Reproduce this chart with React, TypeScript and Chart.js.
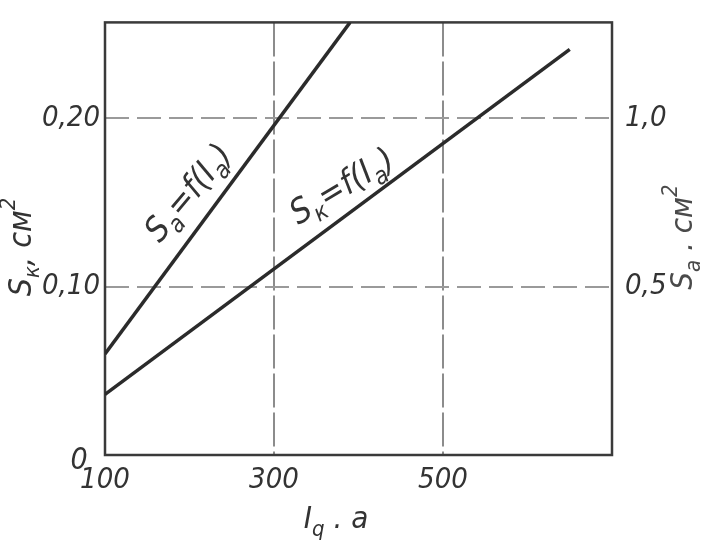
import React, { useEffect, useRef } from "react";
import { Chart, registerables } from "chart.js";

Chart.register(...registerables);

// Data
const currentSk = [100, 650]; // I_a, a
const sK = [0.036, 0.241]; // S_к, см² (left axis)
const currentSa = [100, 390];
const sA = [0.3, 1.285]; // S_a, см² (right axis)

const xTicks = [100, 300, 500, 700];
const xTickLabels = ["100", "300", "500", ""];
const leftTicks = [0, 0.1, 0.2];
const leftTickLabels = ["0", "0,10", "0,20"];
const rightTicks = [0.5, 1.0];
const rightTickLabels = ["0,5", "1,0"];

const FAMILY = "'Liberation Sans Narrow', 'DejaVu Sans Condensed', 'Liberation Sans', sans-serif";
const INK = "#333333";

type Part = { t: string; sub?: boolean; sup?: boolean };

function drawRich(ctx: CanvasRenderingContext2D, parts: Part[], cx: number, cy: number, angle: number, size: number, color: string) {
  const main = `italic ${size}px ${FAMILY}`;
  const small = `italic ${Math.round(size * 0.7)}px ${FAMILY}`;
  let total = 0;
  const widths = parts.map((p) => {
    ctx.font = p.sub || p.sup ? small : main;
    const w = ctx.measureText(p.t).width;
    total += w;
    return w;
  });
  ctx.save();
  ctx.translate(cx, cy);
  ctx.rotate(angle);
  ctx.fillStyle = color;
  ctx.textAlign = "left";
  ctx.textBaseline = "middle";
  let x = -total / 2;
  parts.forEach((p, i) => {
    ctx.font = p.sub || p.sup ? small : main;
    const off = p.sub ? size * 0.32 : p.sup ? -size * 0.42 : 0;
    ctx.fillText(p.t, x, off);
    x += widths[i];
  });
  ctx.restore();
}

const decoPlugin = {
  id: "deco",
  beforeDatasetsDraw(chart: any) {
    const { ctx, chartArea } = chart;
    ctx.save();
    ctx.strokeStyle = "#3a3a3a";
    ctx.lineWidth = 2.5;
    ctx.strokeRect(chartArea.left, chartArea.top, chartArea.right - chartArea.left, chartArea.bottom - chartArea.top);
    ctx.restore();
  },
  afterDatasetsDraw(chart: any) {
    const ctx = chart.ctx as CanvasRenderingContext2D;
    // origin label "0", drawn below-left of the corner as in the reference
    const y0 = chart.scales.y.getPixelForValue(leftTicks[0]);
    ctx.save();
    ctx.font = `italic 30px ${FAMILY}`;
    ctx.fillStyle = INK;
    ctx.textAlign = "center";
    ctx.textBaseline = "middle";
    ctx.fillText(leftTickLabels[0], 79, y0 + 6);
    ctx.restore();

    drawRich(ctx, [{ t: "S" }, { t: "к", sub: true }, { t: ", см" }, { t: "2", sup: true }], 23, 247, -Math.PI / 2, 32, INK);
    drawRich(ctx, [{ t: "S" }, { t: "a", sub: true }, { t: " . см" }, { t: "2", sup: true }], 684, 237, -Math.PI / 2, 31, "#4a4a4a");
    drawRich(ctx, [{ t: "I" }, { t: "q", sub: true }, { t: " . a" }], 336, 520, 0, 31, INK);
    drawRich(ctx, [{ t: "S" }, { t: "a", sub: true }, { t: "=f(I" }, { t: "a", sub: true }, { t: ")" }], 190, 194, (-50 * Math.PI) / 180, 34, INK);
    drawRich(ctx, [{ t: "S" }, { t: "к", sub: true }, { t: "=f(I" }, { t: "a", sub: true }, { t: ")" }], 343, 188, (-31 * Math.PI) / 180, 34, INK);
  },
};

export default function App() {
  const ref = useRef<HTMLCanvasElement | null>(null);
  useEffect(() => {
    if (!ref.current) return;
    const chart = new Chart(ref.current, {
      type: "line",
      data: {
        datasets: [
          {
            label: "S_к",
            data: currentSk.map((x, i) => ({ x, y: sK[i] })),
            borderColor: "#2b2b2b",
            borderWidth: 3.5,
            pointRadius: 0,
            yAxisID: "y",
          },
          {
            label: "S_a",
            data: currentSa.map((x, i) => ({ x, y: sA[i] })),
            borderColor: "#2b2b2b",
            borderWidth: 3.5,
            pointRadius: 0,
            yAxisID: "y2",
          },
        ],
      },
      options: {
        responsive: false,
        animation: false,
        layout: { padding: { top: 18, left: 0, right: 0, bottom: 0 } },
        plugins: { legend: { display: false }, tooltip: { enabled: false } },
        scales: {
          x: {
            type: "linear",
            min: 100,
            max: 700,
            afterBuildTicks: (s: any) => {
              s.ticks = xTicks.map((v) => ({ value: v }));
            },
            afterFit: (s: any) => {
              s.height = 90;
            },
            ticks: {
              padding: 8,
              color: INK,
              font: { family: FAMILY, size: 29, style: "italic" },
              callback: (v: any) => xTickLabels[xTicks.indexOf(Number(v))] ?? "",
            },
            grid: { color: "#8c8c8c", lineWidth: 2, drawTicks: false },
            border: { display: false, dash: [34, 5] },
          },
          y: {
            type: "linear",
            position: "left",
            min: 0,
            max: 0.257,
            afterBuildTicks: (s: any) => {
              s.ticks = leftTicks.map((v) => ({ value: v }));
            },
            afterFit: (s: any) => {
              s.width = 105;
            },
            ticks: {
              padding: 5,
              color: INK,
              font: { family: FAMILY, size: 29, style: "italic" },
              callback: (v: any) => {
                const i = leftTicks.findIndex((t) => Math.abs(t - Number(v)) < 1e-9);
                return i > 0 ? leftTickLabels[i] : "";
              },
            },
            grid: { color: "#9a9a9a", lineWidth: 2, drawTicks: false },
            border: { display: false, dash: [24, 8] },
          },
          y2: {
            type: "linear",
            position: "right",
            min: 0,
            max: 1.285,
            afterBuildTicks: (s: any) => {
              s.ticks = rightTicks.map((v) => ({ value: v }));
            },
            afterFit: (s: any) => {
              s.width = 111;
            },
            ticks: {
              padding: 5,
              color: INK,
              font: { family: FAMILY, size: 29, style: "italic" },
              callback: (v: any) => {
                const i = rightTicks.findIndex((t) => Math.abs(t - Number(v)) < 1e-9);
                return i >= 0 ? rightTickLabels[i] : "";
              },
            },
            grid: { display: false },
            border: { display: false },
          },
        },
      } as any,
      plugins: [decoPlugin],
    });
    return () => chart.destroy();
  }, []);
  return (
    <div style={{ position: "fixed", left: 0, top: 0, width: 723, height: 545, background: "#fff" }}>
      <canvas ref={ref} width={723} height={545} style={{ width: 723, height: 545 }} />
    </div>
  );
}
